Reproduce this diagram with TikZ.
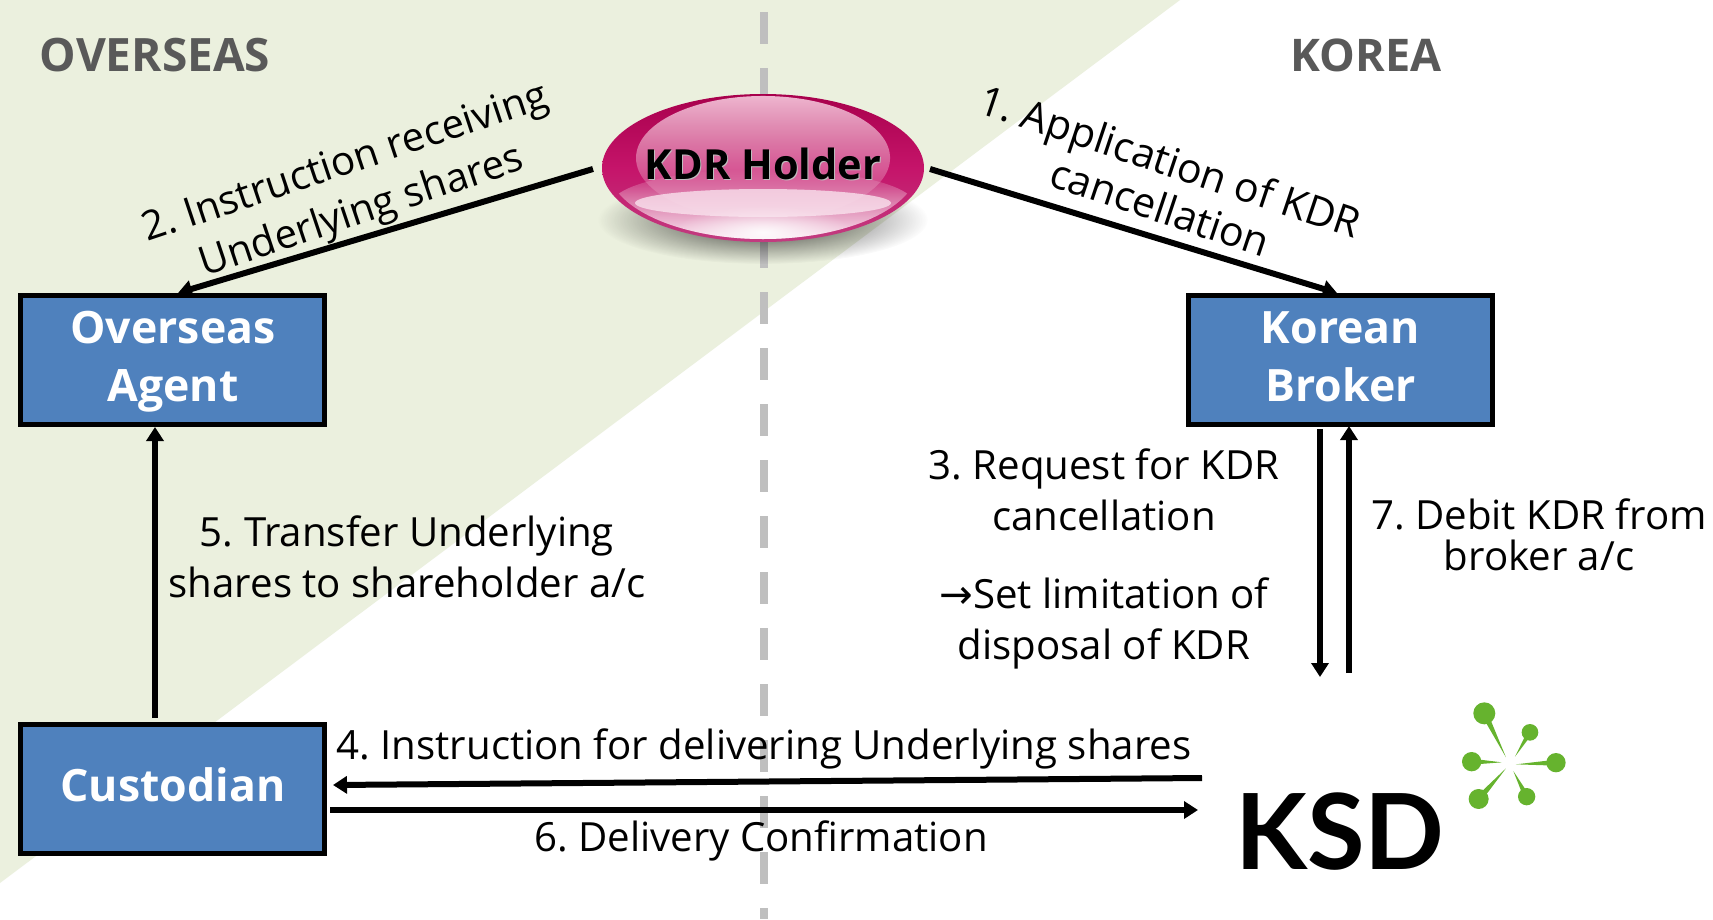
\documentclass[tikz,border=0pt]{standalone}
\usepackage{fontspec}
\setmainfont{Open Sans}
\newfontfamily\logofont{Lato}
\newfontfamily\arrowfont{DejaVu Sans}
\usetikzlibrary{arrows.meta,fadings,shapes.geometric}
\definecolor{bandgreen}{HTML}{EBF0DE}
\definecolor{boxblue}{HTML}{4F81BD}
\definecolor{headgray}{HTML}{595959}
\definecolor{dashgray}{HTML}{BFBFBF}
\definecolor{logogreen}{HTML}{66B32E}
\definecolor{rimtop}{HTML}{A8004C}
\definecolor{rimmid}{HTML}{C5146A}
\definecolor{rimlow}{HTML}{C23C80}
\definecolor{glosstop}{HTML}{F2BFD6}
\definecolor{glosslow}{HTML}{FBE8F1}
\tikzset{
 x=1pt,y=-1pt,
 bluebox/.style={draw=black,line width=5pt,fill=boxblue,minimum width=304pt,minimum height=129pt,inner sep=0pt},
 boxtext/.style={text=white,align=center,font=\bfseries\fontsize{44.6}{58}\selectfont,inner sep=0pt},
 head/.style={text=headgray,font=\bfseries\fontsize{46}{52}\selectfont,inner sep=0pt},
 lbl/.style={text=black,align=center,font=\fontsize{40.2}{51}\selectfont,inner sep=0pt},
 conn/.style={line width=6pt,-{Triangle[length=14pt,width=17pt]}},
}
\tikzfading[name=glossfade,top color=transparent!5,middle color=transparent!50,bottom color=transparent!100]
\tikzfading[name=fadeup,top color=transparent!100,bottom color=transparent!0]
\tikzfading[name=blobfade,inner color=transparent!0,outer color=transparent!100]
\begin{document}
\frenchspacing
\begin{tikzpicture}
\useasboundingbox (0,0) rectangle (1713,919);
\fill[white] (0,0) rectangle (1713,919);
\fill[bandgreen] (0,0) -- (1180,0) -- (0,883) -- cycle;
\draw[dashgray,line width=8pt,dash pattern=on 32pt off 24pt] (764,12) -- (764,919);
% holder
\fill[black,opacity=.8,path fading=blobfade] (763,220) ellipse [x radius=165,y radius=44];
\node[ellipse,minimum width=322pt,minimum height=148pt,inner sep=0pt] (holder) at (763,168) {};
\shade[top color=rimtop,bottom color=rimlow,middle color=rimmid] (763,168) ellipse [x radius=161,y radius=74];
\fill[glosstop,path fading=glossfade] (763,158) ellipse [x radius=127,y radius=62];
\begin{scope}
\clip (763,167) ellipse [x radius=155,y radius=72];
\fill[glosslow,path fading=fadeup] (763,205) ellipse [x radius=152,y radius=36];
\fill[white,opacity=.9,path fading=blobfade] (763,232) ellipse [x radius=90,y radius=26];
\end{scope}
\fill[glosslow,opacity=.75] (763,203) ellipse [x radius=128,y radius=14];
\node[text=white!75!black,font=\bfseries\fontsize{41.5}{48}\selectfont,inner sep=0pt] (holdershade) at (764,164.5) {KDR Holder};
\node[text=black,font=\bfseries\fontsize{41.5}{48}\selectfont,inner sep=0pt] (holdertext) at (763,163.5) {KDR Holder};
% boxes
\node[bluebox] (overseas) at (172.5,360) {};
\node[boxtext] (overseastext) at (173,361.7) {Overseas\\Agent};
\node[bluebox] (korean) at (1340.5,360) {};
\node[boxtext] (koreantext) at (1340.5,361.7) {Korean\\\vphantom{g}Broker};
\node[bluebox] (custodian) at (172.5,789) {};
\node[boxtext] (custodiantext) at (173,789.5) {\vphantom{g}Custodian};
% KSD logo
\node[font=\logofont\bfseries\fontsize{105}{105}\selectfont,inner sep=0pt] (ksd) at (1340,832) {KSD};
\coordinate (ksdleft) at (1198,810);
\coordinate (ksdleftup) at (1202,778);
\coordinate (ksdtopa) at (1320,677);
\coordinate (ksdtopb) at (1349,673);
\begin{scope}[shift={(1200,670)},x=.3333pt,y=-.3333pt]
\fill[logogreen] (853,130) circle [radius=33];
\fill[logogreen] (862,126) -- (918,262) -- (844,134) -- cycle;
\fill[logogreen] (990,187) circle [radius=25];
\fill[logogreen] (997,191) -- (945,260) -- (983,183) -- cycle;
\fill[logogreen] (1068,278) circle [radius=29];
\fill[logogreen] (1068,269) -- (948,283) -- (1068,287) -- cycle;
\fill[logogreen] (815,275) circle [radius=29];
\fill[logogreen] (815,266) -- (905,277) -- (815,284) -- cycle;
\fill[logogreen] (836,387) circle [radius=30];
\fill[logogreen] (843.5,393.7) -- (918,295) -- (828.5,380.3) -- cycle;
\fill[logogreen] (980,380) circle [radius=26];
\fill[logogreen] (988,376) -- (940,303) -- (972,384) -- cycle;
\end{scope}
% connectors
\coordinate (holderw) at (593,169);
\coordinate (holdere) at (930,169);
\coordinate (overseasn) at (178,293);
\coordinate (koreann) at (1337,293);
\coordinate (custn) at (155,718);
\coordinate (overseass) at (155,427);
\coordinate (koreansa) at (1320,429);
\coordinate (koreansb) at (1349,426);
\coordinate (custea) at (333,785);
\coordinate (csteb) at (330,810);
\draw[conn] (holderw) -- (overseasn);
\draw[conn] (holdere) -- (koreann);
\draw[conn] (custn) -- (overseass);
\draw[conn] (koreansa) -- (ksdtopa);
\draw[conn] (ksdtopb) -- (koreansb);
\draw[conn] (ksdleftup) -- (custea);
\draw[conn] (csteb) -- (ksdleft);
% labels
\node[head] (hover) at (155,55) {OVERSEAS};
\node[head,font=\bfseries\fontsize{45}{52}\selectfont] (hkor) at (1366,55) {KOREA};
\node[lbl,rotate=18.5] (l2) at (354,189) {2. Instruction receiving\\Underlying shares};
\node[lbl,rotate=-18.5,font=\fontsize{41}{47}\selectfont] (l1) at (1163,183) {1. Application of KDR\\\hspace*{10pt}cancellation};
\node[lbl] (l5) at (407,557) {5. Transfer Underlying\\shares to shareholder a/c};
\node[lbl] (l3) at (1104,490) {3. Request for KDR\\cancellation};
\node[lbl] (l3b) at (1104,623) {{\arrowfont →}Set limitation of\\disposal of KDR};
\node[lbl,font=\fontsize{40.2}{41}\selectfont] (l7) at (1539,535) {7. Debit KDR from\\broker a/c};
\node[lbl] (l4) at (764,749) {4. Instruction for delivering Underlying shares};
\node[lbl] (l6) at (761,841) {6. Delivery Confirmation};
\end{tikzpicture}
\end{document}
